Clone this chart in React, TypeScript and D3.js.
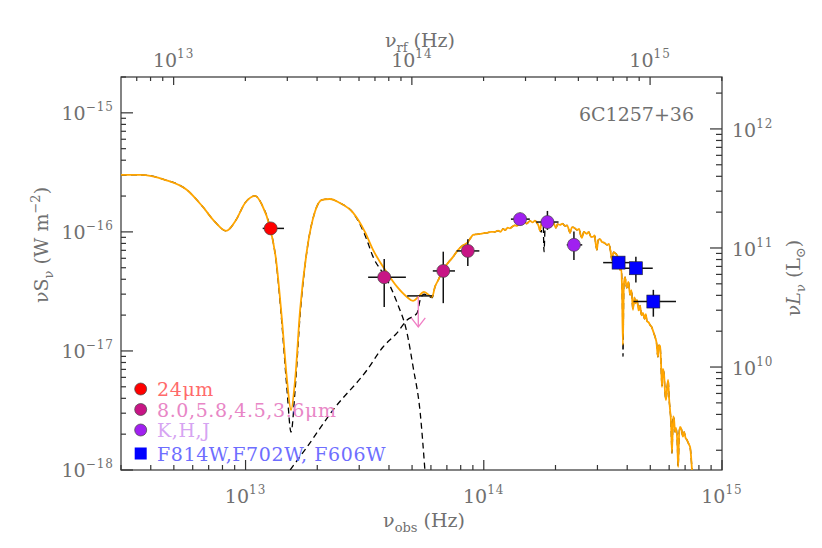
import React, { useRef, useEffect } from 'react'
import * as d3 from 'd3'

// observed-frame SED of 6C1257+36, nu (Hz) vs nu*S_nu (W m^-2)
const redshift = 1.004
const lumFactor = 1.365e27 // nuS_nu -> nuL_nu in L_sun

// [nu, nuSnu, nuLo, nuHi, sLo, sHi]
const mips24: number[][] = [[1.275e13, 1.07e-16, 1.18e13, 1.45e13, 0.97e-16, 1.17e-16]]
const irac: number[][] = [
  [3.82e13, 4.16e-17, 3.27e13, 4.71e13, 2.34e-17, 5.93e-17],
  [6.76e13, 4.7e-17, 6.11e13, 7.57e13, 2.52e-17, 6.82e-17],
  [8.57e13, 6.92e-17, 7.69e13, 9.58e13, 5.18e-17, 8.69e-17],
]
// [nu, limit, nuLo, nuHi, arrowTip]
const iracLimit: number[][] = [[5.31e13, 2.9e-17, 4.77e13, 6.07e13, 1.59e-17]]
const nearIR: number[][] = [
  [1.42e14, 1.28e-16, 1.3e14, 1.56e14, 1.15e-16, 1.45e-16],
  [1.85e14, 1.21e-16, 1.66e14, 2.06e14, 1.04e-16, 1.5e-16],
  [2.39e14, 7.78e-17, 2.23e14, 2.59e14, 5.82e-17, 1.01e-16],
]
const hst: number[][] = [
  [3.68e14, 5.52e-17, 3.17e14, 4.24e14, 4.97e-17, 6.17e-17],
  [4.35e14, 4.95e-17, 3.73e14, 5.12e14, 3.75e-17, 6.19e-17],
  [5.15e14, 2.6e-17, 4.25e14, 6.41e14, 1.94e-17, 3.26e-17],
]

// total model, infrared part
const totalIR: number[][] = [
  [3.0e12, 3.01e-16], [3.61e12, 3.01e-16], [4.59e12, 2.74e-16], [5.68e12, 2.25e-16],
  [6.62e12, 1.62e-16], [7.45e12, 1.21e-16], [8.28e12, 1.02e-16], [9.12e12, 1.26e-16],
  [9.95e12, 1.75e-16], [1.096e13, 2.01e-16], [1.172e13, 1.69e-16], [1.268e13, 1.08e-16],
  [1.343e13, 5.82e-17], [1.422e13, 1.82e-17], [1.493e13, 5.7e-18], [1.552e13, 3.19e-18],
  [1.614e13, 5.7e-18], [1.694e13, 2.21e-17], [1.811e13, 7.06e-17], [1.954e13, 1.47e-16],
  [2.094e13, 1.86e-16], [2.259e13, 1.89e-16], [2.489e13, 1.75e-16], [2.825e13, 1.45e-16],
  [3.17e13, 1.0e-16], [3.43e13, 7.06e-17], [3.93e13, 4.52e-17], [4.33e13, 3.45e-17],
  [4.76e13, 2.84e-17], [5.05e13, 2.63e-17], [5.3e13, 2.84e-17], [5.61e13, 3.13e-17],
  [6.07e13, 2.84e-17],
]
// stellar spectrum [log10 nu, log10 nuSnu], shared by total and stellar model
const opticalLog: number[][] = [
  [13.795, -16.462], [13.81, -16.4], [13.829, -16.319], [13.85, -16.26], [13.871, -16.21],
  [13.885, -16.17], [13.9, -16.134], [13.915, -16.11], [13.93, -16.092], [13.945, -16.05],
  [13.955, -16.025], [13.97, -16.02], [13.984, -16.017], [14.0, -16.01], [14.014, -16.008],
  [14.03, -16.0], [14.047, -16.0], [14.06, -15.99], [14.07, -16.0], [14.081, -15.975],
  [14.09, -15.985], [14.1, -15.965], [14.11, -15.97], [14.118, -15.958], [14.13, -15.945],
  [14.14, -15.95], [14.152, -15.924], [14.16, -15.935], [14.17, -15.915], [14.18, -15.93],
  [14.194, -15.908], [14.205, -15.92], [14.215, -15.905], [14.223, -15.924], [14.23, -15.95],
  [14.236, -15.99], [14.242, -15.93], [14.249, -15.916], [14.258, -15.935], [14.265, -15.915],
  [14.278, -15.924], [14.285, -15.945], [14.292, -15.925], [14.303, -15.966], [14.31, -15.935],
  [14.32, -15.941], [14.33, -15.93], [14.341, -15.95], [14.35, -15.945], [14.356, -15.975],
  [14.362, -16.008], [14.37, -15.96], [14.38, -15.965], [14.391, -15.983], [14.4, -15.975],
  [14.407, -16.03], [14.412, -16.05], [14.42, -16.0], [14.433, -16.017], [14.44, -16.0],
  [14.45, -16.04], [14.458, -16.042], [14.465, -16.03], [14.47, -16.1], [14.475, -16.151],
  [14.48, -16.07], [14.488, -16.06], [14.496, -16.084], [14.505, -16.09], [14.517, -16.109],
  [14.525, -16.1], [14.532, -16.16], [14.538, -16.235], [14.545, -16.17], [14.552, -16.18],
  [14.559, -16.193], [14.566, -16.25], [14.572, -16.319], [14.577, -16.3], [14.58, -16.445],
  [14.584, -16.95], [14.588, -16.44], [14.593, -16.38], [14.6, -16.47], [14.607, -16.42],
  [14.614, -16.529], [14.62, -16.49], [14.626, -16.655], [14.632, -16.55], [14.637, -16.6],
  [14.643, -16.571], [14.65, -16.66], [14.656, -16.62], [14.662, -16.7], [14.668, -16.681],
  [14.675, -16.73], [14.68, -16.69], [14.685, -16.75], [14.692, -16.76], [14.698, -16.782],
  [14.705, -16.8], [14.712, -16.84], [14.719, -16.882], [14.725, -16.93], [14.731, -17.05],
  [14.735, -16.95], [14.74, -16.96], [14.744, -17.1], [14.748, -17.303], [14.752, -17.15],
  [14.757, -17.202], [14.761, -17.35], [14.765, -17.412], [14.77, -17.3], [14.774, -17.244],
  [14.778, -17.4], [14.782, -17.496], [14.786, -17.6], [14.79, -17.857], [14.795, -17.55],
  [14.799, -17.58], [14.803, -17.68], [14.807, -17.647], [14.812, -17.75], [14.816, -17.975],
  [14.82, -17.7], [14.824, -17.639], [14.83, -17.66], [14.836, -17.72], [14.841, -17.681],
  [14.847, -17.73], [14.853, -17.748], [14.86, -17.78], [14.866, -17.807], [14.874, -18.0],
]
const dustModel: number[][] = [
  [3.0e12, 3.01e-16], [3.61e12, 3.01e-16], [4.59e12, 2.74e-16], [5.68e12, 2.25e-16],
  [6.62e12, 1.62e-16], [7.45e12, 1.21e-16], [8.28e12, 1.02e-16], [9.12e12, 1.26e-16],
  [9.95e12, 1.75e-16], [1.096e13, 2.01e-16], [1.172e13, 1.69e-16], [1.268e13, 1.08e-16],
  [1.343e13, 5.7e-17], [1.422e13, 1.66e-17], [1.493e13, 4.7e-18], [1.552e13, 2.08e-18],
  [1.614e13, 4.7e-18], [1.694e13, 2.0e-17], [1.811e13, 7.0e-17], [1.954e13, 1.47e-16],
  [2.094e13, 1.86e-16], [2.259e13, 1.89e-16], [2.489e13, 1.75e-16], [2.825e13, 1.45e-16],
  [3.17e13, 9.44e-17], [3.43e13, 6.17e-17], [3.93e13, 3.95e-17], [4.33e13, 2.53e-17],
  [4.76e13, 1.42e-17], [5.05e13, 7.35e-18], [5.41e13, 3.01e-18], [5.66e13, 1.0e-18],
]
const starIR: number[][] = [
  [1.538e13, 1.0e-18], [1.811e13, 1.56e-18], [2.328e13, 3.19e-18], [3.236e13, 6.92e-18],
  [3.776e13, 1.08e-17], [4.325e13, 1.42e-17], [4.764e13, 1.82e-17], [5.248e13, 2.08e-17],
  [5.408e13, 2.69e-17], [5.61e13, 3.0e-17], [6.07e13, 2.8e-17],
]
const starLines: number[][] = [[1.79e14, 6.8e-17], [1.745e14, 1.0e-16], [3.84e14, 9.0e-18]]

const legendLabels = ['24\u03bcm', '8.0,5.8,4.5,3.6\u03bcm', 'K,H,J', 'F814W,F702W, F606W']
const markerColors = ['#ff0000', '#c71585', '#a020f0', '#0000ff']
const legendTextColors = ['#ff6a6a', '#e886c6', '#d6a4f2', '#6e6eff']

const font = "'DejaVu Serif', serif"
const grey = '#707070'

const App = () => {
  const ref = useRef<SVGSVGElement>(null)
  const width = 822, height = 548
  const box = { l: 121, r: 722, t: 77, b: 470 }

  useEffect(() => {
    const svg = d3.select(ref.current)
    svg.selectAll('*').remove()

    const x = d3.scaleLog().domain([3e12, 1e15]).range([box.l, box.r])
    const xTop = d3.scaleLog().domain([3e12 * (1 + redshift), 1e15 * (1 + redshift)]).range([box.l, box.r])
    const y = d3.scaleLog().domain([1e-18, 2e-15]).range([box.b, box.t])
    const yR = d3.scaleLog().domain([1e-18 * lumFactor, 2e-15 * lumFactor]).range([box.b, box.t])

    svg.append('defs').append('clipPath').attr('id', 'plotclip')
      .append('rect').attr('x', box.l).attr('y', box.t).attr('width', box.r - box.l).attr('height', box.b - box.t)

    const isMajor = (t: number) => Math.abs(Math.log10(t) - Math.round(Math.log10(t))) < 1e-6
    const ax = svg.append('g').attr('stroke', '#333').attr('stroke-width', 1.2)

    const powLabel = (px: number, py: number, e: number, anchor: string) => {
      const t = svg.append('text').attr('x', px).attr('y', py).attr('text-anchor', anchor)
        .attr('font-family', font).attr('fill', grey).attr('font-size', 19)
      t.append('tspan').text('10')
      t.append('tspan').attr('dy', -9).attr('font-size', 12).attr('letter-spacing', 1).text(String(e).replace('-', '\u2212'))
    }

    // bottom axis (observed)
    x.ticks().filter(t => t >= 3e12 && t <= 1e15).forEach(t => {
      const m = isMajor(t)
      ax.append('line').attr('x1', x(t)).attr('x2', x(t)).attr('y1', box.b).attr('y2', box.b - (m ? 10 : 5))
      if (m) powLabel(x(t), 503, Math.round(Math.log10(t)), 'middle')
    })
    // top axis (rest frame)
    xTop.ticks().filter(t => t >= xTop.domain()[0] && t <= xTop.domain()[1]).forEach(t => {
      const m = isMajor(t)
      ax.append('line').attr('x1', xTop(t)).attr('x2', xTop(t)).attr('y1', box.t).attr('y2', box.t + (m ? 8 : 4))
      if (m) powLabel(xTop(t), 67, Math.round(Math.log10(t)), 'middle')
    })
    // left axis
    y.ticks().filter(t => t >= 1e-18 && t <= 2e-15 * 1.0001).forEach(t => {
      const m = isMajor(t)
      ax.append('line').attr('x1', box.l).attr('x2', box.l + (m ? 12 : 5)).attr('y1', y(t)).attr('y2', y(t))
      if (m) powLabel(114, y(t) + 7, Math.round(Math.log10(t)), 'end')
    })
    // right axis
    yR.ticks().filter(t => t >= yR.domain()[0] && t <= yR.domain()[1]).forEach(t => {
      const m = isMajor(t)
      ax.append('line').attr('x1', box.r).attr('x2', box.r - (m ? 12 : 6)).attr('y1', yR(t)).attr('y2', yR(t))
      if (m) powLabel(732, yR(t) + 8, Math.round(Math.log10(t)), 'start')
    })
    ax.append('rect').attr('x', box.l).attr('y', box.t).attr('width', box.r - box.l).attr('height', box.b - box.t)
      .attr('fill', 'none')

    // axis titles
    const tb = svg.append('text').attr('x', 424).attr('y', 527).attr('text-anchor', 'middle')
      .attr('font-family', font).attr('fill', grey).attr('font-size', 19)
    tb.append('tspan').text('\u03bd')
    tb.append('tspan').attr('dy', 5).attr('font-size', 13).text('obs')
    tb.append('tspan').attr('dy', -5).text(' (Hz)')

    const tt = svg.append('text').attr('x', 420).attr('y', 47).attr('text-anchor', 'middle')
      .attr('font-family', font).attr('fill', grey).attr('font-size', 19)
    tt.append('tspan').text('\u03bd')
    tt.append('tspan').attr('dy', 5).attr('font-size', 13).text('rf')
    tt.append('tspan').attr('dy', -5).text(' (Hz)')

    const tl = svg.append('text').attr('transform', 'translate(48,245) rotate(-90)').attr('text-anchor', 'middle')
      .attr('font-family', font).attr('fill', grey).attr('font-size', 19)
    tl.append('tspan').text('\u03bdS')
    tl.append('tspan').attr('dy', 5).attr('font-size', 13).text('\u03bd')
    tl.append('tspan').attr('dy', -5).text(' (W m')
    tl.append('tspan').attr('dy', -8).attr('font-size', 13).text('\u22122')
    tl.append('tspan').attr('dy', 8).text(')')

    const tr = svg.append('text').attr('transform', 'translate(800,278) rotate(-90)').attr('text-anchor', 'middle')
      .attr('font-family', font).attr('fill', grey).attr('font-size', 19)
    tr.append('tspan').text('\u03bd')
    tr.append('tspan').attr('font-style', 'italic').text('L')
    tr.append('tspan').attr('dy', 5).attr('font-size', 13).text('\u03bd')
    tr.append('tspan').attr('dy', -5).text(' (L')
    tr.append('tspan').attr('dy', 5).attr('font-size', 13).text('\u2299')
    tr.append('tspan').attr('dy', -5).text(')')

    svg.append('text').attr('x', 694).attr('y', 121).attr('text-anchor', 'end')
      .attr('font-family', font).attr('fill', grey).attr('font-size', 19).text('6C1257+36')

    // models
    const plot = svg.append('g').attr('clip-path', 'url(#plotclip)')
    const line = d3.line<number[]>().x(d => x(d[0])).y(d => y(d[1])).curve(d3.curveMonotoneX)
    const opticalSpec = opticalLog.map(d => [Math.pow(10, d[0]), Math.pow(10, d[1])])
    const starModel = [...starIR, ...opticalSpec, ...starLines].sort((a, b) => a[0] - b[0])
    const totalModel = [...totalIR, ...opticalSpec]

    plot.append('path').attr('d', line(dustModel)).attr('fill', 'none').attr('stroke', '#000')
      .attr('stroke-width', 1.3).attr('stroke-dasharray', '6,4')
    plot.append('path').attr('d', line(starModel)).attr('fill', 'none').attr('stroke', '#000')
      .attr('stroke-width', 1.3).attr('stroke-dasharray', '6,4')
    plot.append('path').attr('d', line(totalModel)).attr('fill', 'none').attr('stroke', '#ffa500')
      .attr('stroke-width', 1.8).attr('stroke-linejoin', 'round')

    // error bars
    const bars = plot.append('g').attr('stroke', '#111').attr('stroke-width', 1.5)
    ;[...mips24, ...irac, ...nearIR, ...hst].forEach(d => {
      bars.append('line').attr('x1', x(d[2])).attr('x2', x(d[3])).attr('y1', y(d[1])).attr('y2', y(d[1]))
      bars.append('line').attr('x1', x(d[0])).attr('x2', x(d[0])).attr('y1', y(d[4])).attr('y2', y(d[5]))
    })
    iracLimit.forEach(d => {
      bars.append('line').attr('x1', x(d[2])).attr('x2', x(d[3])).attr('y1', y(d[1])).attr('y2', y(d[1]))
      const ar = plot.append('g').attr('stroke', '#f07ec4').attr('stroke-width', 1.3).attr('fill', 'none')
      ar.append('line').attr('x1', x(d[0])).attr('x2', x(d[0])).attr('y1', y(d[1])).attr('y2', y(d[4]))
      ar.append('path').attr('d', `M${x(d[0]) - 7},${y(d[4]) - 9}L${x(d[0])},${y(d[4])}L${x(d[0]) + 7},${y(d[4]) - 9}`)
    })

    // markers
    const circles = (data: number[][], color: string) => plot.selectAll(null).data(data).enter().append('circle')
      .attr('cx', d => x(d[0])).attr('cy', d => y(d[1])).attr('r', 6.5)
      .attr('fill', color).attr('stroke', '#444').attr('stroke-width', 0.7)
    circles(mips24, markerColors[0])
    circles(irac, markerColors[1])
    circles(nearIR, markerColors[2])
    plot.selectAll(null).data(hst).enter().append('rect')
      .attr('x', d => x(d[0]) - 6.5).attr('y', d => y(d[1]) - 6.5).attr('width', 13).attr('height', 13)
      .attr('fill', markerColors[3]).attr('stroke', '#222').attr('stroke-width', 0.6)

    // legend
    const rows = [389, 409.5, 430, 453.5]
    legendLabels.forEach((lab, i) => {
      if (i < 3) svg.append('circle').attr('cx', 140.7).attr('cy', rows[i]).attr('r', 6)
        .attr('fill', markerColors[i]).attr('stroke', '#444').attr('stroke-width', 0.7)
      else svg.append('rect').attr('x', 134.7).attr('y', rows[i] - 6).attr('width', 12).attr('height', 12)
        .attr('fill', markerColors[i])
      svg.append('text').attr('x', 157).attr('y', rows[i] + 7).attr('font-family', font).attr('font-size', 19)
        .attr('letter-spacing', 0.6).attr('fill', legendTextColors[i]).text(lab)
    })
  }, [])

  return (
    <svg ref={ref} width={width} height={height}
      style={{ position: 'absolute', left: 0, top: 0, background: '#fff' }} />
  )
}

export default App
